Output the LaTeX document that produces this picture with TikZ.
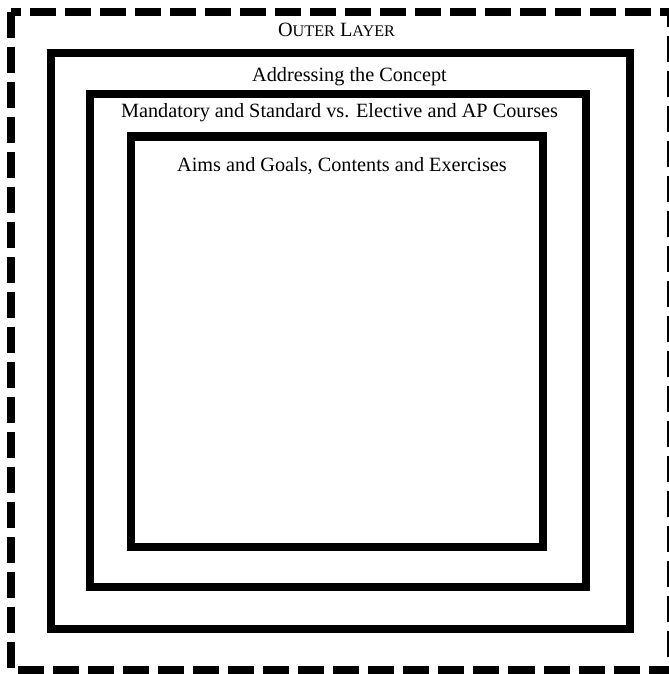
\documentclass[tikz,border=0pt]{standalone}
\usepackage{fontspec}
\setmainfont{Liberation Serif}
\usepackage{tikz}
\usetikzlibrary{positioning}

\begin{document}
\begin{tikzpicture}[x=0.025cm, y=-0.025cm, every node/.style={font=\fontsize{14.4}{17}\selectfont, inner sep=0pt, anchor=base},
	wall/.style={draw, line width=5.7pt}, dashwall/.style={wall, dash pattern=on 18.5pt off 6.4pt}]
	\useasboundingbox (0,0) rectangle (668,674);
	% the four layers, outside in
	\draw[dashwall] (11,12) rectangle (671,670);
	\draw[wall] (51,53) rectangle (630,629);
	\draw[wall] (90,94) rectangle (586,587);
	\draw[wall] (131,136.5) rectangle (543,547);
	\node (outer) at (336.5,37) {O{\fontsize{11.5}{14}\selectfont UTER} L{\fontsize{11.5}{14}\selectfont AYER}};
	\node (concept) at (349.5,82) {Addressing the Concept};
	\node (courses) at (339.5,118) {Mandatory and Standard vs. Elective and AP Courses};
	\node (aims) at (342,172) {Aims and Goals, Contents and Exercises};
\end{tikzpicture}
\end{document}
